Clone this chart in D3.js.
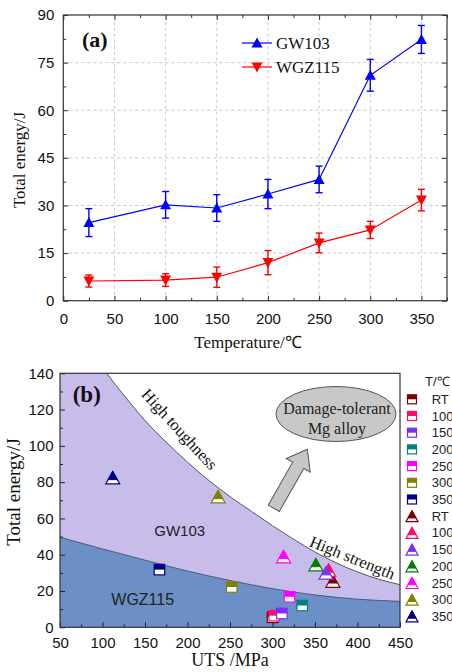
<!DOCTYPE html>
<html>
<head>
<meta charset="utf-8">
<script src="https://cdn.jsdelivr.net/npm/d3@7"></script>
<style>
  body { margin: 0; background: #fff; }
  svg { display: block; }
</style>
</head>
<body>
<script>
// ---- panel (a) data ----
const temps = [25, 100, 150, 200, 250, 300, 350];
const gwEnergy = [24.6, 30.2, 29.2, 33.6, 38.2, 71.0, 82.3];
const gwErr = [4.4, 4.2, 4.2, 4.6, 4.2, 5.0, 4.4];
const wgzEnergy = [6.2, 6.5, 7.4, 12.0, 18.2, 22.3, 31.7];
const wgzErr = [1.9, 2.0, 3.2, 3.8, 3.1, 2.7, 3.4];
const xTicksA = [0, 50, 100, 150, 200, 250, 300, 350];
const yTicksA = [0, 15, 30, 45, 60, 75, 90];

// ---- panel (b) data ----
const tempLabels = ["RT", "100", "150", "200", "250", "300", "350"];
const wgzUts = [300, 302, 311, 335, 320, 252, 167];
const wgzEnergyB = [5.5, 6.4, 7.6, 12.0, 16.8, 22.2, 31.8];
const gwUts = [371, 366, 363, 351, 313, 236, 112];
const gwEnergyB = [25.5, 31.5, 30.0, 34.5, 39.0, 72.0, 82.5];
const squareColors = ["#800000", "#ff0a6e", "#7b2ff7", "#008080", "#ff00ff", "#808000", "#000080"];
const triangleColors = ["#800000", "#ff0a6e", "#7b2ff7", "#008000", "#ff00ff", "#808000", "#000080"];
// boundary curves
const upperCurve = [[50, 182], [70, 165], [90, 150], [105, 140], [125, 128], [150, 114], [175, 102], [200, 91],
  [225, 81], [250, 72], [275, 64], [300, 56], [325, 48.5], [350, 41.5], [375, 35.5], [400, 30.5], [425, 26.5], [450, 23.5]];
const lowerCurve = [[50, 49.6], [100, 43.2], [150, 37], [200, 31], [250, 25.8], [300, 21.3], [350, 17.8], [400, 15.5], [450, 14.3]];
const xTicksB = [50, 100, 150, 200, 250, 300, 350, 400, 450];
const yTicksB = [0, 20, 40, 60, 80, 100, 120, 140];

const serif = "'Liberation Serif','Times New Roman',serif";
const sans = "'Liberation Sans',Arial,sans-serif";

const svg = d3.select("body").append("svg").attr("width", 452).attr("height", 672);

function range(a, b, s) { return d3.range(a, b + s / 2, s); }

// half filled markers (top coloured, bottom white)
function halfSquare(g, s, color) {
  g.append("rect").attr("x", -s / 2).attr("y", -s / 2).attr("width", s).attr("height", s)
    .attr("fill", "#fff").attr("stroke", color).attr("stroke-width", 1.2);
  g.append("rect").attr("x", -s / 2).attr("y", -s / 2).attr("width", s).attr("height", s * 0.5)
    .attr("fill", color);
}
function halfTriangle(g, w, h, color) {
  g.append("path").attr("d", `M0,${-h / 2}L${w / 2},${h / 2}L${-w / 2},${h / 2}Z`)
    .attr("fill", "#fff").attr("stroke", color).attr("stroke-width", 1.2).attr("stroke-linejoin", "miter");
  const c = 0.66, hw = w / 2 * c;
  g.append("path").attr("d", `M0,${-h / 2}L${hw},${-h / 2 + h * c}L${-hw},${-h / 2 + h * c}Z`)
    .attr("fill", color).attr("stroke", color).attr("stroke-width", 1);
}

function drawPanelA() {
  const x = d3.scaleLinear().domain([0, 375]).range([63.3, 447]);
  const y = d3.scaleLinear().domain([0, 90]).range([300.7, 15]);
  const g = svg.append("g");

  // dashed grid
  g.selectAll("line.gx").data(xTicksA.slice(1)).enter().append("line")
    .attr("x1", d => x(d)).attr("x2", d => x(d)).attr("y1", y(0)).attr("y2", y(90))
    .attr("stroke", "#c8c8c8").attr("stroke-dasharray", "3,3");
  g.selectAll("line.gy").data(yTicksA.slice(1, -1)).enter().append("line")
    .attr("x1", x(0)).attr("x2", x(375)).attr("y1", d => y(d)).attr("y2", d => y(d))
    .attr("stroke", "#c8c8c8").attr("stroke-dasharray", "3,3");

  // axes, ticks inside on every side
  g.append("g").attr("transform", `translate(0,${y(0)})`)
    .call(d3.axisBottom(x).tickValues(xTicksA).tickSize(-5).tickPadding(12.5));
  g.append("g").attr("transform", `translate(0,${y(0)})`)
    .call(d3.axisBottom(x).tickValues(range(25, 375, 50)).tickSize(-3).tickFormat(""));
  g.append("g").attr("transform", `translate(${x(0)},0)`)
    .call(d3.axisLeft(y).tickValues(yTicksA).tickSize(-5).tickPadding(9));
  g.append("g").attr("transform", `translate(${x(0)},0)`)
    .call(d3.axisLeft(y).tickValues(range(7.5, 90, 15)).tickSize(-3).tickFormat(""));
  g.append("g").attr("transform", `translate(0,${y(90)})`)
    .call(d3.axisTop(x).tickValues(xTicksA).tickSize(-5).tickFormat(""));
  g.append("g").attr("transform", `translate(0,${y(90)})`)
    .call(d3.axisTop(x).tickValues(range(25, 375, 50)).tickSize(-3).tickFormat(""));
  g.append("g").attr("transform", `translate(${x(375)},0)`)
    .call(d3.axisRight(y).tickValues(yTicksA).tickSize(-5).tickFormat(""));
  g.append("g").attr("transform", `translate(${x(375)},0)`)
    .call(d3.axisRight(y).tickValues(range(7.5, 90, 15)).tickSize(-3).tickFormat(""));
  g.selectAll(".domain").remove();
  g.selectAll(".tick line").attr("stroke", "#333");
  g.selectAll(".tick text").attr("font-family", sans).attr("font-size", 15).attr("fill", "#111");
  g.append("rect").attr("x", x(0)).attr("y", y(90)).attr("width", x(375) - x(0)).attr("height", y(0) - y(90))
    .attr("fill", "none").attr("stroke", "#333").attr("stroke-width", 1.2);

  const series = [
    { vals: gwEnergy, err: gwErr, color: "#0000ff", up: true },
    { vals: wgzEnergy, err: wgzErr, color: "#ff0000", up: false }
  ];
  const line = d3.line().x((d, i) => x(temps[i])).y(d => y(d));
  series.forEach(s => {
    g.append("path").attr("d", line(s.vals)).attr("fill", "none").attr("stroke", s.color).attr("stroke-width", 1.2);
    const e = g.selectAll(null).data(s.vals).enter().append("g");
    e.append("line").attr("x1", (d, i) => x(temps[i])).attr("x2", (d, i) => x(temps[i]))
      .attr("y1", (d, i) => y(d + s.err[i])).attr("y2", (d, i) => y(d - s.err[i]))
      .attr("stroke", s.color).attr("stroke-width", 1.4);
    [1, -1].forEach(k => {
      e.append("line").attr("x1", (d, i) => x(temps[i]) - 3.5).attr("x2", (d, i) => x(temps[i]) + 3.5)
        .attr("y1", (d, i) => y(d + k * s.err[i])).attr("y2", (d, i) => y(d + k * s.err[i]))
        .attr("stroke", s.color).attr("stroke-width", 1.4);
    });
    const tri = s.up ? "M0,-5.5L5.5,4.5L-5.5,4.5Z" : "M0,5.5L5.5,-4.5L-5.5,-4.5Z";
    e.append("path").attr("d", tri).attr("fill", s.color)
      .attr("transform", (d, i) => `translate(${x(temps[i])},${y(d)})`);
  });

  // legend
  const legend = [["GW103", "#0000ff", true], ["WGZ115", "#ff0000", false]];
  legend.forEach((l, i) => {
    const ly = 43 + i * 24;
    g.append("line").attr("x1", 242).attr("x2", 272).attr("y1", ly).attr("y2", ly)
      .attr("stroke", l[1]).attr("stroke-width", 1.2);
    g.append("path").attr("d", l[2] ? "M0,-5.5L5.5,4.5L-5.5,4.5Z" : "M0,5.5L5.5,-4.5L-5.5,-4.5Z")
      .attr("fill", l[1]).attr("transform", `translate(257,${ly})`);
    g.append("text").attr("x", 276).attr("y", ly + 6).text(l[0])
      .attr("font-family", serif).attr("font-size", 17).attr("fill", "#111");
  });

  g.append("text").attr("x", 82).attr("y", 47).text("(a)")
    .attr("font-family", serif).attr("font-size", 22).attr("font-weight", "bold").attr("fill", "#111");
  g.append("text").attr("x", 248).attr("y", 348).attr("text-anchor", "middle").text("Temperature/℃")
    .attr("font-family", serif).attr("font-size", 17).attr("fill", "#111");
  g.append("text").attr("transform", "translate(25,160) rotate(-90)").attr("text-anchor", "middle")
    .text("Total energy/J").attr("font-family", serif).attr("font-size", 17).attr("fill", "#111");
}

function drawPanelB() {
  const x = d3.scaleLinear().domain([50, 450]).range([60, 400]);
  const y = d3.scaleLinear().domain([0, 140]).range([627.3, 373.3]);
  const g = svg.append("g");

  g.append("clipPath").attr("id", "clipB").append("rect")
    .attr("x", x(50)).attr("y", y(140)).attr("width", x(450) - x(50)).attr("height", y(0) - y(140));
  const plot = g.append("g").attr("clip-path", "url(#clipB)");

  const curve = d3.line().x(d => x(d[0])).y(d => y(d[1])).curve(d3.curveMonotoneX);
  const area = d3.area().x(d => x(d[0])).y0(y(0)).y1(d => y(d[1])).curve(d3.curveMonotoneX);
  plot.append("path").attr("d", area(upperCurve)).attr("fill", "#c8bdea");
  plot.append("path").attr("d", area(lowerCurve)).attr("fill", "#6b8fc6");
  plot.append("path").attr("d", curve(upperCurve)).attr("fill", "none").attr("stroke", "#555").attr("stroke-width", 1);
  plot.append("path").attr("d", curve(lowerCurve)).attr("fill", "none").attr("stroke", "#4a5a7a").attr("stroke-width", 1);

  // axes
  g.append("g").attr("transform", `translate(0,${y(0)})`)
    .call(d3.axisBottom(x).tickValues(xTicksB).tickSize(-5).tickPadding(10));
  g.append("g").attr("transform", `translate(0,${y(0)})`)
    .call(d3.axisBottom(x).tickValues(range(75, 450, 50)).tickSize(-3).tickFormat(""));
  g.append("g").attr("transform", `translate(${x(50)},0)`)
    .call(d3.axisLeft(y).tickValues(yTicksB).tickSize(-5).tickPadding(6.5));
  g.append("g").attr("transform", `translate(${x(50)},0)`)
    .call(d3.axisLeft(y).tickValues(range(10, 140, 20)).tickSize(-3).tickFormat(""));
  g.selectAll(".domain").remove();
  g.selectAll(".tick line").attr("stroke", "#222");
  g.selectAll(".tick text").attr("font-family", sans).attr("font-size", 15).attr("fill", "#111");
  g.append("rect").attr("x", x(50)).attr("y", y(140)).attr("width", x(450) - x(50)).attr("height", y(0) - y(140))
    .attr("fill", "none").attr("stroke", "#333").attr("stroke-width", 1.2);

  // annotations
  g.append("text").attr("x", 72.7).attr("y", 401.7).text("(b)")
    .attr("font-family", serif).attr("font-size", 23).attr("font-weight", "bold").attr("fill", "#111");
  g.append("text").attr("transform", `translate(${x(190.8)},${y(109.2)}) rotate(47.5)`)
    .attr("text-anchor", "middle").attr("dy", "0.35em").text("High toughness")
    .attr("font-family", serif).attr("font-size", 16.5).attr("fill", "#111");
  g.append("text").attr("transform", `translate(${x(394)},${y(38.5)}) rotate(22)`)
    .attr("text-anchor", "middle").attr("dy", "0.35em").text("High strength")
    .attr("font-family", serif).attr("font-size", 16.5).attr("fill", "#111");
  g.append("text").attr("x", x(190.8)).attr("y", y(53.2)).attr("dy", "0.35em").attr("text-anchor", "middle")
    .text("GW103").attr("font-family", sans).attr("font-size", 15).attr("fill", "#222");
  g.append("text").attr("x", x(147.3)).attr("y", y(15.4)).attr("dy", "0.35em").attr("text-anchor", "middle")
    .text("WGZ115").attr("font-family", sans).attr("font-size", 16).attr("fill", "#222");

  g.append("ellipse").attr("cx", 336).attr("cy", 414).attr("rx", 60).attr("ry", 27.5)
    .attr("fill", "#c8c8c8").attr("stroke", "#555").attr("stroke-width", 1);
  g.append("text").attr("x", 337).attr("y", 414).attr("text-anchor", "middle").text("Damage-tolerant")
    .attr("font-family", serif).attr("font-size", 16).attr("fill", "#222");
  g.append("text").attr("x", 337).attr("y", 434).attr("text-anchor", "middle").text("Mg alloy")
    .attr("font-family", serif).attr("font-size", 16).attr("fill", "#222");

  // block arrow, tail -> tip
  const tail = [273.8, 508.3], tip = [307.3, 449.3];
  const len = Math.hypot(tip[0] - tail[0], tip[1] - tail[1]);
  const ang = Math.atan2(tip[1] - tail[1], tip[0] - tail[0]) * 180 / Math.PI;
  const sw = 6.4, hw = 13.8, hl = 18.4;
  g.append("path")
    .attr("d", `M0,${-sw}L${len - hl},${-sw}L${len - hl},${-hw}L${len},0L${len - hl},${hw}L${len - hl},${sw}L0,${sw}Z`)
    .attr("transform", `translate(${tail[0]},${tail[1]}) rotate(${ang})`)
    .attr("fill", "#c6c6c6").attr("stroke", "#555").attr("stroke-width", 1);

  // scatter
  tempLabels.forEach((t, i) => {
    halfSquare(g.append("g").attr("transform", `translate(${x(wgzUts[i])},${y(wgzEnergyB[i])})`), 10.5, squareColors[i]);
  });
  tempLabels.forEach((t, i) => {
    halfTriangle(g.append("g").attr("transform", `translate(${x(gwUts[i])},${y(gwEnergyB[i])})`), 14, 12.5, triangleColors[i]);
  });

  // legend
  g.append("text").attr("x", 425).attr("y", 386).text("T/℃")
    .attr("font-family", sans).attr("font-size", 13).attr("fill", "#222");
  const items = tempLabels.map((t, i) => ({ t, c: squareColors[i], sq: true }))
    .concat(tempLabels.map((t, i) => ({ t, c: triangleColors[i], sq: false })));
  items.forEach((d, i) => {
    const ly = 399.3 + i * 16.7;
    const m = g.append("g").attr("transform", `translate(412,${ly})`);
    if (d.sq) halfSquare(m, 9, d.c); else halfTriangle(m, 12, 11, d.c);
    g.append("text").attr("x", 431.7).attr("y", ly).attr("dy", "0.35em").text(d.t)
      .attr("font-family", sans).attr("font-size", 13).attr("fill", "#222");
  });

  g.append("text").attr("x", 230).attr("y", 666).attr("text-anchor", "middle").text("UTS /MPa")
    .attr("font-family", serif).attr("font-size", 18).attr("fill", "#111");
  g.append("text").attr("transform", "translate(20,492) rotate(-90)").attr("text-anchor", "middle")
    .text("Total energy/J").attr("font-family", serif).attr("font-size", 19).attr("fill", "#111");
}

drawPanelA();
drawPanelB();
</script>
</body>
</html>
